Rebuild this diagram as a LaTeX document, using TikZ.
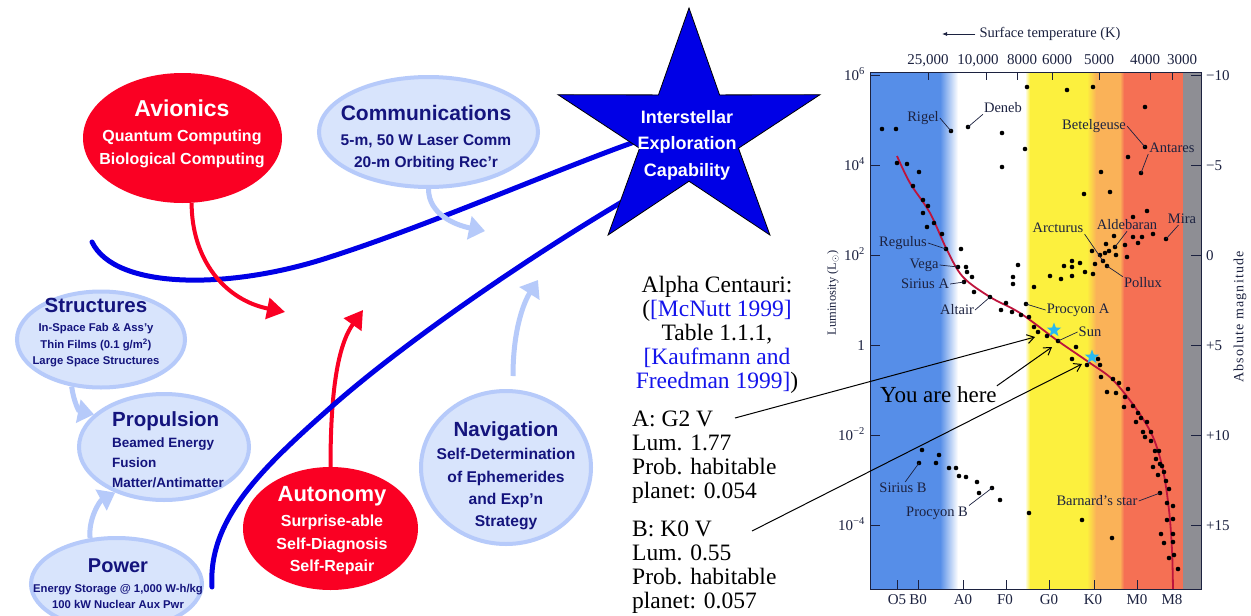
\documentclass[tikz,border=0pt]{standalone}
\usepackage{fontspec}
\setmainfont{Liberation Serif}
\newfontfamily\arialfont{Liberation Sans}
\usetikzlibrary{shapes.geometric,arrows.meta,calc}

\definecolor{redfill}{RGB}{250,0,35}
\definecolor{bubfill}{RGB}{216,228,252}
\definecolor{bubedge}{RGB}{182,202,250}
\definecolor{bubtext}{RGB}{20,20,125}
\definecolor{deepblue}{RGB}{0,0,230}
\definecolor{hrblue}{RGB}{86,142,232}
\definecolor{hryellow}{RGB}{252,240,62}
\definecolor{hrorange}{RGB}{250,178,88}
\definecolor{hrred}{RGB}{245,112,84}
\definecolor{hrgray}{RGB}{142,142,148}
\definecolor{hrink}{RGB}{28,34,64}
\definecolor{mscol}{RGB}{190,20,60}
\definecolor{suncyan}{RGB}{40,185,240}
\definecolor{citeblue}{RGB}{20,20,235}

\begin{document}
\begin{tikzpicture}[x=1pt,y=-1pt,
  bubble/.style={ellipse, draw=bubedge, line width=4pt, fill=bubfill, inner sep=0pt},
  redbubble/.style={ellipse, fill=redfill, inner sep=0pt},
  btext/.style={text=bubtext, align=center, inner sep=0pt},
  rtext/.style={text=white, align=center, inner sep=0pt},
  bluelink/.style={draw=deepblue, line width=5pt, line cap=round},
  redlink/.style={draw=redfill, line width=4pt, -{Triangle[length=18pt,width=21pt]}},
  palelink/.style={draw=bubedge, line width=5pt, -{Triangle[length=16pt,width=23pt]}},
  staredge/.style={fill=deepblue, draw=black, line width=0.8pt, line join=miter},
  hrlab/.style={text=hrink, inner sep=1pt, font=\fontsize{14.5}{16}\selectfont},
  ticklab/.style={text=hrink, inner sep=0pt, font=\fontsize{15}{17}\selectfont},
  leader/.style={draw=hrink, line width=0.7pt},
  dot/.style={fill=black},
  pointer/.style={draw=black, line width=1pt, -{Straight Barb[length=7pt,width=9pt]}},
  plain/.style={text=black, inner sep=0pt, font=\fontsize{23.5}{24}\selectfont},
  sunmark/.style={star, star points=5, star point ratio=2.4, fill=suncyan, minimum size=15pt, inner sep=0pt}
]
\useasboundingbox (0,0) rectangle (1251,616);
\fill[white] (0,0) rectangle (1251,616);

% ---------------- Hertzsprung-Russell diagram ----------------
% colour bands by spectral class
\fill[hrblue] (870,72) rectangle (941,589);
\shade[left color=hrblue, right color=white] (940,72) rectangle (958,589);
\shade[left color=white, right color=hryellow] (1025,72) rectangle (1030,589);
\fill[hryellow] (1029.5,72) rectangle (1087.5,589);
\shade[left color=hryellow, right color=hrorange] (1087,72) rectangle (1096,589);
\fill[hrorange] (1095.5,72) rectangle (1120.5,589);
\shade[left color=hrorange, right color=hrred] (1120,72) rectangle (1124,589);
\fill[hrred] (1123.5,72) rectangle (1183,589);
\fill[hrgray] (1183,72) rectangle (1201,589);
\draw[hrink, line width=0.8pt] (870,72) rectangle (1201,589);

% ticks
\foreach \x in {928,986,1017,1052,1099,1150,1172} \draw[hrink, line width=0.8pt] (\x,72) -- (\x,80);
\foreach \y in {75,165,255,345,435,525} {
  \draw[hrink, line width=0.8pt] (870,\y) -- (880,\y);
  \draw[hrink, line width=0.8pt] (1201,\y) -- (1191,\y);
}
\foreach \x in {897,918,963,1006,1049,1094,1137,1172} \draw[hrink, line width=0.8pt] (\x,589) -- (\x,580);

% temperature axis
\node[ticklab, font=\fontsize{14.5}{17}\selectfont] (tlabel) at (1050,34) {Surface temperature (K)};
\coordinate (tarrow) at (942,34);
\draw[hrink, line width=0.8pt, -{Latex[length=5pt,width=4pt]}] ($(tlabel.west)+(-4,0)$) -- (tarrow);
\node[ticklab, anchor=base] (t1) at (928,64) {25,000};
\node[ticklab, anchor=base] (t2) at (978,64) {10,000};
\node[ticklab, anchor=base] (t3) at (1022,64) {8000};
\node[ticklab, anchor=base] (t4) at (1057,64) {6000};
\node[ticklab, anchor=base] (t5) at (1099,64) {5000};
\node[ticklab, anchor=base] (t6) at (1145,64) {4000};
\node[ticklab, anchor=base] (t7) at (1182,64) {3000};

% luminosity axis
\node[ticklab, anchor=base east] (l6) at (865,80) {10\textsuperscript{6}};
\node[ticklab, anchor=base east] (l4) at (865,170) {10\textsuperscript{4}};
\node[ticklab, anchor=base east] (l2) at (865,260) {10\textsuperscript{2}};
\node[ticklab, anchor=base east] (l0) at (865,350) {1};
\node[ticklab, anchor=base east] (lm2) at (865,440) {10\textsuperscript{−2}};
\node[ticklab, anchor=base east] (lm4) at (865,530) {10\textsuperscript{−4}};
\node[ticklab, rotate=90, font=\fontsize{12.5}{15}\selectfont] (lumlab) at (833,293) {Luminosity (L$_\odot$)};

% magnitude axis
\node[ticklab, anchor=base west] (m1) at (1206,80) {−10};
\node[ticklab, anchor=base west] (m2) at (1206,170) {−5};
\node[ticklab, anchor=base west] (m3) at (1206,260) {0};
\node[ticklab, anchor=base west] (m4) at (1206,350) {+5};
\node[ticklab, anchor=base west] (m5) at (1206,440) {+10};
\node[ticklab, anchor=base west] (m6) at (1206,530) {+15};
\node[ticklab, rotate=90, font=\fontsize{14}{16}\selectfont] (maglab) at (1240,317) {\addfontfeature{LetterSpace=8}Absolute magnitude};

% spectral classes
\node[ticklab, anchor=base] (s1) at (897,604) {O5};
\node[ticklab, anchor=base] (s2) at (918,604) {B0};
\node[ticklab, anchor=base] (s3) at (963,604) {A0};
\node[ticklab, anchor=base] (s4) at (1005,604) {F0};
\node[ticklab, anchor=base] (s5) at (1049,604) {G0};
\node[ticklab, anchor=base] (s6) at (1093,604) {K0};
\node[ticklab, anchor=base] (s7) at (1137,604) {M0};
\node[ticklab, anchor=base] (s8) at (1172,604) {M8};

% main sequence
\draw[mscol, line width=1.8pt] plot[smooth, tension=0.55] coordinates {
  (897,156) (910,183) (930,213) (947,250) (963,277) (990,297) (1020,313)
  (1058,341) (1090,363) (1113,380) (1137,410) (1153,437) (1163,470)
  (1169,510) (1172,550) (1173,589)};

% named stars
\coordinate (dRigel) at (951,131);
\coordinate (dDeneb) at (968,127);
\coordinate (dBetel) at (1145,147);
\coordinate (dAntares) at (1141,173);
\coordinate (dArct) at (1103,261);
\coordinate (dPollux) at (1107,266);
\coordinate (dAldeb) at (1115,247);
\coordinate (dMira) at (1166,239);
\coordinate (dRegulus) at (946,249);
\coordinate (dVega) at (958,267);
\coordinate (dSiriusA) at (964,282);
\coordinate (dAltair) at (990,297);
\coordinate (dProcA) at (1026,304);
\coordinate (dSun) at (1058,341);
\coordinate (dSiriusB) at (919,463);
\coordinate (dProcB) at (992,488);
\coordinate (dBarnard) at (1160,493);

% stars as dots
\foreach \p in {(882,129),(896,129),(951,131),(968,127),(1002,133),(1025,149),(1002,167),
  (1027,87),(1067,90),(1093,87),(1145,107),(1145,147),(1128,157),(1141,173),(1101,172),
  (1110,192),(1084,194),(1147,211),(1133,217),
  (897,163),(907,164),(919,172),(913,186),(923,200),(928,206),(923,213),(934,223),(927,227),
  (942,234),(946,249),(961,249),(958,267),(966,267),(967,272),(972,277),(964,282),(974,292),
  (990,297),(1006,303),(1001,310),(1012,312),(1021,315),(1029,317),(1026,304),(1013,277),
  (1013,284),(1018,265),(1034,287),(1034,327),(1038,332),(1047,336),(1058,341),(1076,347),
  (1072,359),(1087,365),(1098,359),(1100,365),
  (1050,276),(1061,279),(1064,266),(1072,261),(1072,267),(1072,276),(1080,263),(1085,272),
  (1093,274),(1095,264),(1092,251),(1100,255),(1103,261),(1107,266),(1105,253),(1109,251),
  (1106,244),(1115,247),(1114,236),(1116,255),(1125,245),(1127,257),(1133,237),(1138,243),
  (1142,237),(1153,234),(1166,239),
  (1101,377),(1113,379),(1119,383),(1107,392),(1116,393),(1128,389),(1125,397),(1124,407),
  (1133,406),(1138,413),(1141,418),(1136,422),(1147,422),(1143,432),(1151,432),(1145,437),
  (1151,441),(1155,451),(1159,451),(1156,459),(1160,464),(1162,466),(1153,467),(1164,472),
  (1158,475),(1166,481),(1169,489),(1160,493),(1167,503),(1173,506),(1173,519),(1167,520),
  (1161,534),(1173,534),(1164,543),(1173,542),(1174,555),(1169,558),(1178,569),
  (922,450),(919,463),(939,455),(936,463),(949,468),(956,468),(959,476),(966,477),(977,482),
  (979,493),(992,488),(1000,500),(1029,513),(1082,520),(1112,538)}
  \fill[dot] \p circle (2.3pt);

% labels with leaders
\node[hrlab] (rigel) at (923,118) {Rigel};
\draw[leader] (rigel.east) -- (dRigel);
\node[hrlab] (deneb) at (1003,108) {Deneb};
\draw[leader] (deneb.south west) -- (dDeneb);
\node[hrlab] (betel) at (1094,126) {Betelgeuse};
\draw[leader] (betel.east) -- (dBetel);
\node[hrlab] (antares) at (1172,148) {Antares};
\draw[leader] (antares.south west) -- (dAntares);
\node[hrlab] (arct) at (1058,228) {Arcturus};
\draw[leader] (arct.south east) -- (dArct);
\node[hrlab] (aldeb) at (1127,225) {Aldebaran};
\draw[leader] (aldeb.south) -- (dAldeb);
\node[hrlab] (mira) at (1182,219) {Mira};
\draw[leader] (mira.240) -- (dMira);
\node[hrlab] (pollux) at (1143,283) {Pollux};
\draw[leader] (pollux.north west) -- (dPollux);
\node[hrlab] (regulus) at (903,243) {Regulus};
\draw[leader] (regulus.east) -- (dRegulus);
\node[hrlab] (vega) at (924,265) {Vega};
\draw[leader] (vega.east) -- (dVega);
\node[hrlab] (siriusA) at (925,284) {Sirius A};
\draw[leader] (siriusA.east) -- (dSiriusA);
\node[hrlab] (altair) at (957,310) {Altair};
\draw[leader] (altair.east) -- (dAltair);
\node[hrlab] (procA) at (1078,310) {Procyon A};
\draw[leader] (procA.west) -- (dProcA);
\node[hrlab] (sunlab) at (1090,332) {Sun};
\draw[leader] (sunlab.west) -- (dSun);
\node[hrlab] (siriusB) at (903,488) {Sirius B};
\draw[leader] (siriusB.70) -- (dSiriusB);
\node[hrlab] (procB) at (937,513) {Procyon B};
\draw[leader] (procB.north east) -- (dProcB);
\node[hrlab] (barnard) at (1097,501) {Barnard's star};
\draw[leader] (barnard.east) -- (dBarnard);

% the two components of Alpha Centauri
\node[sunmark] (sunA) at (1054,330) {};
\node[sunmark] (sunB) at (1092,357) {};

% ---------------- Alpha Centauri notes ----------------
\node[plain, align=center] (alpha) at (717,335)
  {Alpha Centauri:\\(\textcolor{citeblue}{[McNutt 1999]}\\Table 1.1.1,\\
   \textcolor{citeblue}{[Kaufmann and}\\\textcolor{citeblue}{Freedman 1999]})};
\node[plain, align=left, anchor=west] (compA) at (632,457)
  {A: G2 V\\Lum. 1.77\\Prob. habitable\\planet: 0.054};
\node[plain, align=left, anchor=west] (compB) at (632,567)
  {B: K0 V\\Lum. 0.55\\Prob. habitable\\planet: 0.057};
\node[plain, anchor=base west, font=\fontsize{23}{24}\selectfont] (here) at (880,402) {You are here};

\coordinate (aFrom) at (735,418);
\coordinate (aTo) at (1035,337);
\coordinate (bFrom) at (752,531);
\coordinate (bTo) at (1082,364);
\coordinate (hereTo) at (1052,347);
\draw[pointer] (aFrom) -- (aTo);
\draw[pointer] (bFrom) -- (bTo);
\draw[pointer] (here.north east) -- (hereTo);

% ---------------- technology roadmap ----------------
\node[redbubble, minimum width=199pt, minimum height=130pt] (avionics) at (182.5,138) {};
\node[bubble, minimum width=219pt, minimum height=110pt] (comm) at (428.5,132) {};
\node[bubble, minimum width=168pt, minimum height=96pt] (struct) at (101,339.5) {};
\node[bubble, minimum width=170pt, minimum height=106pt] (prop) at (164,447) {};
\node[bubble, minimum width=171pt, minimum height=92pt] (power) at (116.5,584) {};
\node[redbubble, minimum width=175pt, minimum height=123pt] (auto) at (330.5,528.5) {};
\node[bubble, minimum width=170pt, minimum height=153pt] (nav) at (506,467.5) {};

\coordinate (blueOneFrom) at (92,242);
\coordinate (blueOneTo) at (640,140);
\coordinate (blueTwoFrom) at (212,587);
\coordinate (blueTwoTo) at (632,196);
\coordinate (avTip) at (285,312);
\coordinate (autoTip) at (363,310);
\coordinate (commTip) at (485,231);
\coordinate (navTip) at (538,280);

\draw[bluelink] (blueOneFrom) .. controls (115,290) and (230,290) .. (330,257)
  .. controls (430,225) and (560,168) .. (blueOneTo);
\draw[palelink] (comm.270) .. controls +(0,25) and +(-30,-6) .. (commTip);
\draw[palelink] ($(nav.north)+(7,-13)$) .. controls +(0,-47) and +(-14,22) .. (navTip);
\draw[palelink] (struct.238) .. controls +(2,15) and +(-15,-3) .. (prop.155);
\draw[palelink] (power.120) .. controls +(-2,-20) and +(-15,8) .. (prop.223);
\draw[redlink] (avionics.278) .. controls +(0,57) and +(-60,-12) .. (avTip);
\draw[redlink] (auto.north) .. controls +(0,-77) and +(-25,35) .. (autoTip);
\draw[bluelink] (blueTwoFrom) .. controls (208,520) and (260,470) .. (330,408)
  .. controls (400,346) and (520,262) .. (blueTwoTo);

% goal star
\draw[staredge, shift={(689,133.5)}]
  (270:137.7 and 125.5) -- (306:52 and 47.7) -- (342:137.7 and 125.5) -- (18:52 and 47.7)
  -- (54:137.7 and 125.5) -- (90:52 and 47.7) -- (126:137.7 and 125.5) -- (162:52 and 47.7)
  -- (198:137.7 and 125.5) -- (234:52 and 47.7) -- cycle;
\node[rtext, font=\arialfont\bfseries\fontsize{18}{26.5}\selectfont] (goal) at (687,145)
  {Interstellar\\Exploration\\Capability};

% bubble texts
\node[rtext, font=\arialfont\bfseries\fontsize{16}{23}\selectfont] (avtext) at (182,133.7)
  {{\fontsize{23}{26}\selectfont Avionics}\\[2pt]Quantum Computing\\Biological Computing};
\node[btext, font=\arialfont\bfseries\fontsize{15.5}{22}\selectfont] (commtext) at (426,137.7)
  {{\fontsize{21}{24}\selectfont Communications}\\[3pt]5-m, 50 W Laser Comm\\20-m Orbiting Rec’r};
\node[btext, font=\arialfont\bfseries\fontsize{11.3}{16.5}\selectfont] (structtext) at (96,332.7)
  {{\fontsize{20.5}{24}\selectfont Structures}\\[2.5pt]In-Space Fab \& Ass’y\\Thin Films (0.1 g/m\textsuperscript{2})\\Large Space Structures};
\node[btext, align=left, anchor=west, font=\arialfont\bfseries\fontsize{13.5}{20}\selectfont] (proptext) at (112,450)
  {{\fontsize{20.5}{24}\selectfont Propulsion}\\[1pt]Beamed Energy\\Fusion\\Matter/Antimatter};
\node[btext, font=\arialfont\bfseries\fontsize{11.3}{15.5}\selectfont] (powertext) at (118,583.5)
  {{\fontsize{20}{24}\selectfont Power}\\[4.5pt]Energy Storage @ 1,000 W-h/kg\\100 kW Nuclear Aux Pwr};
\node[rtext, font=\arialfont\bfseries\fontsize{16}{22.5}\selectfont] (autotext) at (332,530.7)
  {{\fontsize{22}{26}\selectfont Autonomy}\\[2.5pt]Surprise-able\\Self-Diagnosis\\Self-Repair};
\node[btext, font=\arialfont\bfseries\fontsize{15.6}{22.3}\selectfont] (navtext) at (506,476)
  {{\fontsize{20.5}{24}\selectfont Navigation}\\[0.7pt]Self-Determination\\of Ephemerides\\and Exp’n\\Strategy};
\end{tikzpicture}
\end{document}
